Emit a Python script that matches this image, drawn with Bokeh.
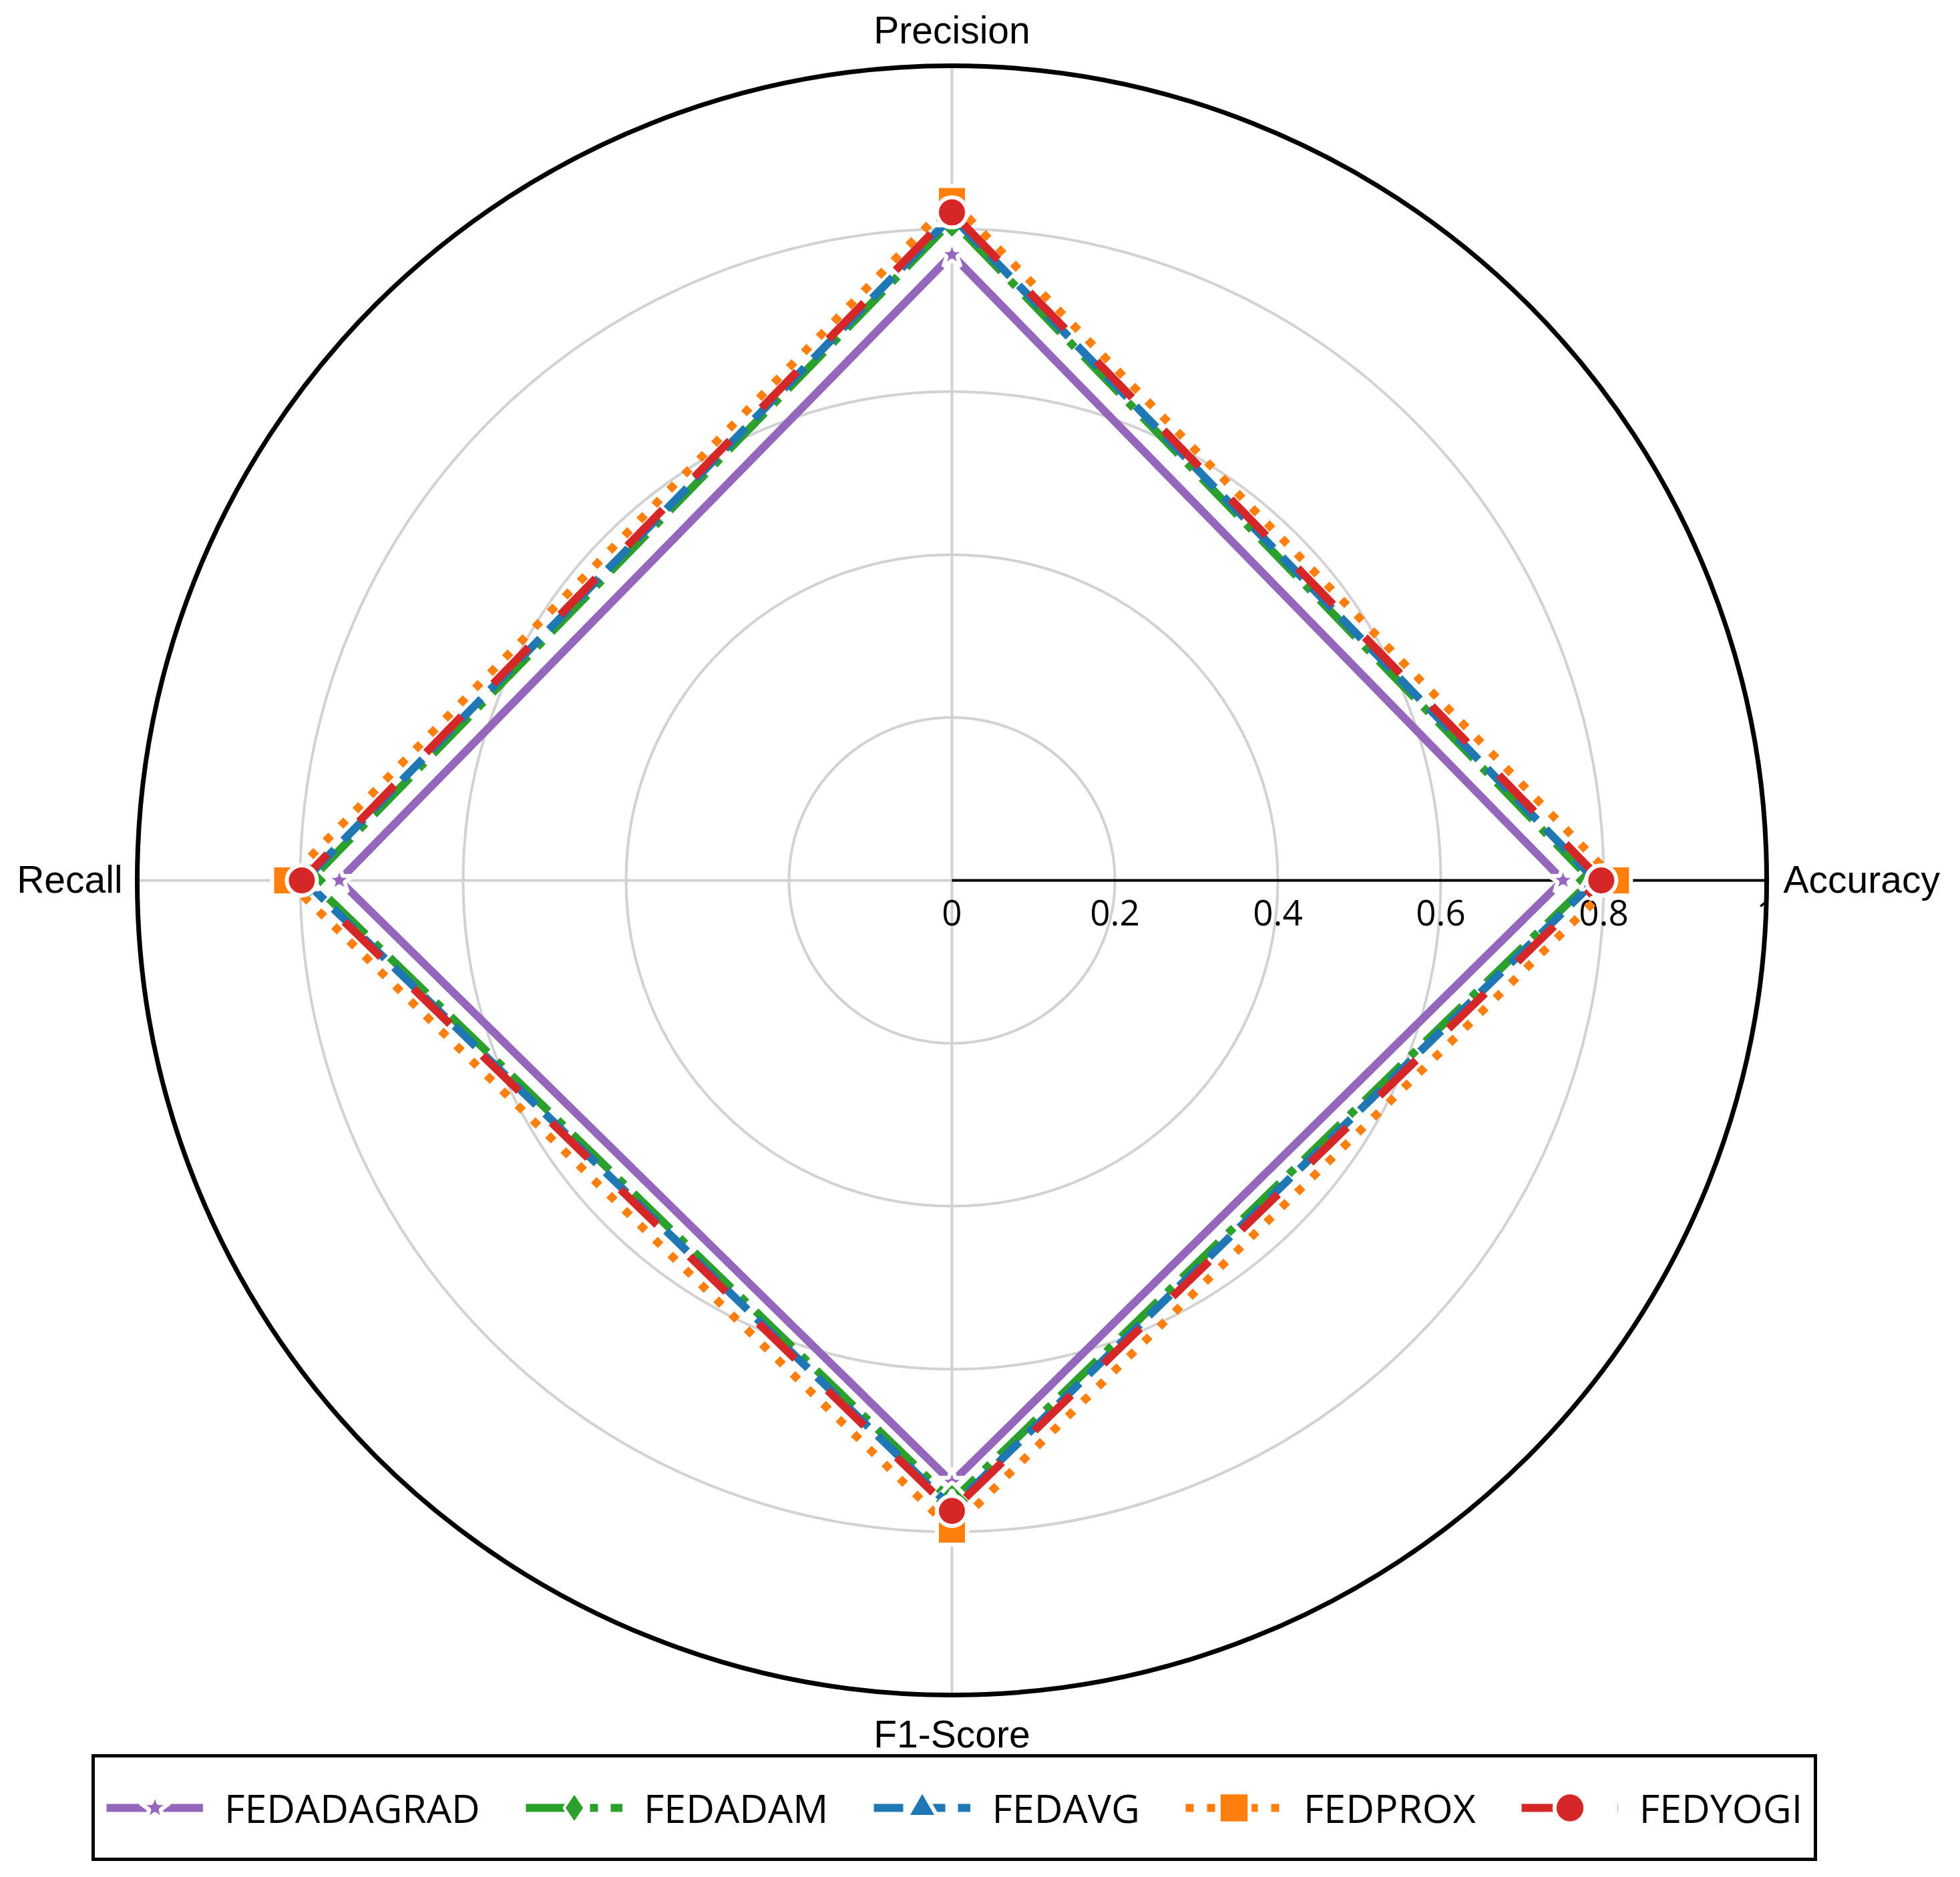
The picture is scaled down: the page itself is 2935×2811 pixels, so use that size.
import numpy as np
from bokeh.plotting import figure
from bokeh.models import Range1d, Legend, LegendItem
from bokeh.core.properties import value
from bokeh.embed import file_html
from bokeh.resources import INLINE

# ---------------- data ----------------
categories = ["Accuracy", "Precision", "Recall", "F1-Score"]
series_names = ["FEDADAGRAD", "FEDADAM", "FEDAVG", "FEDPROX", "FEDYOGI"]
fedadagrad = [0.750, 0.768, 0.752, 0.739]
fedadam = [0.785, 0.810, 0.788, 0.762]
fedavg = [0.790, 0.815, 0.795, 0.770]
fedprox = [0.815, 0.834, 0.816, 0.797]
fedyogi = [0.797, 0.820, 0.798, 0.774]
radial_ticks = [0, 0.2, 0.4, 0.6, 0.8, 1.0]
radial_tick_labels = ["0", "0.2", "0.4", "0.6", "0.8", "1"]

# ---------------- layout ----------------
W, H = 2919, 2795
CX, CY, S = 1425, 1318, 1220  # center pixel & px per unit
p = figure(width=W, height=H, output_backend="svg", toolbar_location=None,
           x_range=Range1d(-CX / S, (W - CX) / S),
           y_range=Range1d(-(H - CY) / S, CY / S),
           x_axis_type=None, y_axis_type=None, min_border=0,
           outline_line_color=None, background_fill_color="white")
p.grid.visible = False

angles = np.array([0, np.pi / 2, np.pi, 3 * np.pi / 2])
GRAY = "#d2d2d2"
TXT_DY = 0.015  # text baseline correction

# grid circles
for r in radial_ticks[1:-1]:
    p.circle(x=0, y=0, radius=r, fill_color=None, line_color=GRAY, line_width=4)
# spokes
for a in angles[1:]:
    p.segment(x0=0, y0=0, x1=np.cos(a), y1=np.sin(a), line_color=GRAY, line_width=4)
p.segment(x0=0, y0=0, x1=1.0, y1=0, line_color="black", line_width=4)

# radial tick labels
p.text(x=radial_ticks, y=[-0.055 + TXT_DY] * len(radial_ticks), text=radial_tick_labels,
       text_font=value("Open Sans"), text_font_size="53px", text_align="center",
       text_baseline="alphabetic", text_color="black")

# series
styles = [
    dict(color="#9467bd", dash="solid", marker="star", size=44, angle=0.0),
    dict(color="#2ca02c", dash="77 19 12 19", marker="square", size=40, angle=np.pi / 4),
    dict(color="#1f77b4", dash="44 19", marker="triangle", size=46, angle=0.0),
    dict(color="#ff7f0e", dash="12 20", marker="square", size=45, angle=0.0),
    dict(color="#d62728", dash="76 68", marker="circle", size=45, angle=0.0),
]
all_vals = [fedadagrad, fedadam, fedavg, fedprox, fedyogi]
items = []
for name, vals, st in zip(series_names, all_vals, styles):
    v = np.array(vals)
    xs = v * np.cos(angles)
    ys = v * np.sin(angles)
    xl = np.append(xs, xs[0])
    yl = np.append(ys, ys[0])
    ln = p.line(xl, yl, line_color=st["color"], line_width=12, line_dash=st["dash"])
    sc = p.scatter(xs, ys, marker=st["marker"], size=st["size"], angle=st["angle"],
                   fill_color=st["color"], line_color="white", line_width=6)
    if name == "FEDADAM":
        # legend-only diamond (legend glyphs ignore marker angle)
        sc = p.scatter([np.nan], [np.nan], marker="diamond", size=40,
                       fill_color=st["color"], line_color="white", line_width=4)
    items.append(LegendItem(label=name, renderers=[ln, sc]))

# clip ring + outer circle
p.annulus(x=0, y=0, inner_radius=1.0, outer_radius=1.018, fill_color="white", line_color=None)
p.circle(x=0, y=0, radius=1.0, fill_color=None, line_color="black", line_width=7)

# category labels
lab_font = value("Liberation Sans")
p.text(x=[0], y=[1.0287 + TXT_DY], text=[categories[1]], text_font=lab_font, text_font_size="57px",
       text_align="center", text_baseline="alphabetic")
p.text(x=[0], y=[-1.0649 + TXT_DY + 0.002], text=[categories[3]], text_font=lab_font, text_font_size="57px",
       text_align="center", text_baseline="alphabetic")
p.text(x=[1.0205], y=[-0.014 + TXT_DY], text=[categories[0]], text_font=lab_font, text_font_size="57px",
       text_align="left", text_baseline="alphabetic")
p.text(x=[-1.018], y=[-0.014 + TXT_DY], text=[categories[2]], text_font=lab_font, text_font_size="57px",
       text_align="right", text_baseline="alphabetic")

legend = Legend(items=items, orientation="horizontal", location=(137, 8),
                label_text_font="Open Sans", label_text_font_size="59px",
                label_text_color="black",
                glyph_width=145, glyph_height=116, label_height=116,
                label_standoff=32, spacing=68, padding=17, margin=0,
                border_line_color="black", border_line_width=5, border_line_alpha=1.0,
                background_fill_color="white", background_fill_alpha=1.0)
p.add_layout(legend)

open("out.html", "w").write(file_html(p, INLINE))
